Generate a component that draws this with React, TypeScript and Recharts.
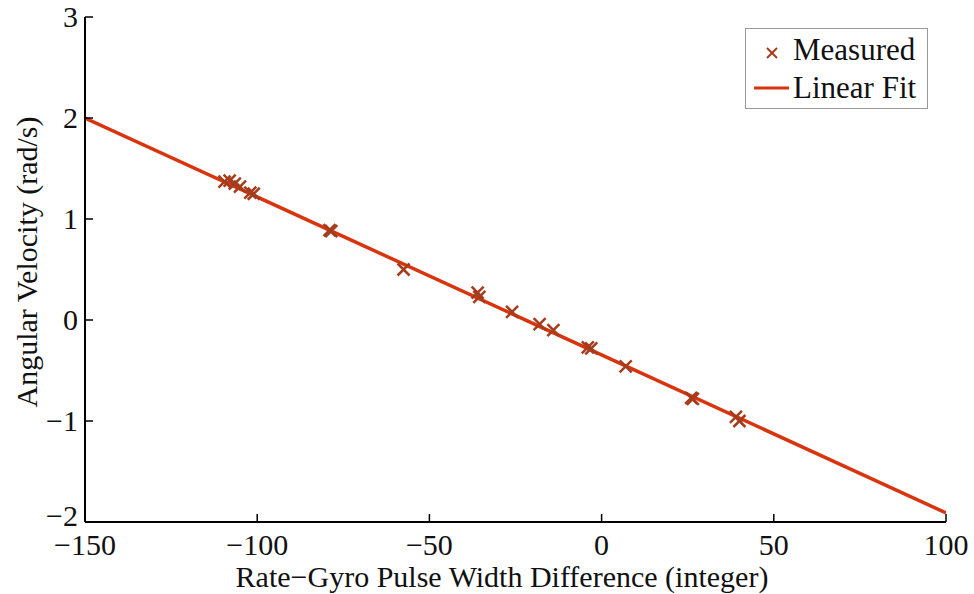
import React from 'react';
import { ComposedChart, XAxis, YAxis, Scatter, Line } from 'recharts';

const MEAS_X = [-109.5, -108, -106.5, -105, -102, -101, -79, -78.5, -57.5, -36, -35.5, -26, -18, -14, -4, -3, 7, 26, 26.5, 39, 40];
const MEAS_Y = [1.37, 1.38, 1.35, 1.32, 1.26, 1.25, 0.89, 0.88, 0.5, 0.27, 0.23, 0.08, -0.04, -0.1, -0.27, -0.28, -0.46, -0.77, -0.78, -0.96, -1.0];
const FIT_X = [-150, 100];
const FIT_Y = [2.0, -1.91];
const X_TICKS = [-150, -100, -50, 0, 50, 100];
const Y_TICKS = [-2, -1, 0, 1, 2, 3];

const measured = MEAS_X.map((x, i) => ({ x, y: MEAS_Y[i] }));
const fit = FIT_X.map((x, i) => ({ x, y: FIT_Y[i] }));

const FONT = "'Liberation Serif', 'Times New Roman', serif";
const MARK = '#a53c1c';
const LINE = '#d8350f';

const fmt = (v: number) => (v < 0 ? '\u2212' + Math.abs(v) : String(v));

const XTick = (props: any) => {
  const { x, y, payload } = props;
  return (
    <g>
      <line x1={x} x2={x} y1={y} y2={y - 8} stroke="#000" strokeWidth={1.5} />
      <text x={x} y={y + 33} textAnchor="middle" fontFamily={FONT} fontSize={30} fill="#111">
        {fmt(payload.value)}
      </text>
    </g>
  );
};

const YTick = (props: any) => {
  const { x, y, payload } = props;
  return (
    <g>
      <line x1={x} x2={x + 8} y1={y} y2={y} stroke="#000" strokeWidth={1.5} />
      <text x={x - 7} y={payload.value === -2 ? y + 4 : y + 10} textAnchor="end" fontFamily={FONT} fontSize={30} fill="#111">
        {fmt(payload.value)}
      </text>
    </g>
  );
};

const Cross = (props: any) => {
  const { cx, cy } = props;
  const r = 6;
  return (
    <g>
      <line x1={cx - r} y1={cy - r} x2={cx + r} y2={cy + r} stroke={MARK} strokeWidth={2.5} />
      <line x1={cx - r} y1={cy + r} x2={cx + r} y2={cy - r} stroke={MARK} strokeWidth={2.5} />
    </g>
  );
};

const LegendBox = () => (
  <div
    style={{
      position: 'absolute',
      left: 745,
      top: 28,
      width: 183,
      height: 81,
      border: '1px solid #999',
      background: '#fff',
      fontFamily: FONT,
      fontSize: 31,
      color: '#111',
      boxSizing: 'border-box',
    }}
  >
    <svg width={50} height={79} style={{ position: 'absolute', left: 0, top: 0 }}>
      <line x1={21} y1={19} x2={31} y2={29} stroke={MARK} strokeWidth={2} />
      <line x1={21} y1={29} x2={31} y2={19} stroke={MARK} strokeWidth={2} />
      <line x1={8} y1={59} x2={43} y2={59} stroke={LINE} strokeWidth={3} />
    </svg>
    <div style={{ position: 'absolute', left: 47, top: 4, lineHeight: '34px', whiteSpace: 'nowrap' }}>Measured</div>
    <div style={{ position: 'absolute', left: 47, top: 42, lineHeight: '34px', whiteSpace: 'nowrap' }}>Linear Fit</div>
  </div>
);

export default function App() {
  return (
    <div style={{ position: 'absolute', left: 0, top: 0, width: 974, height: 594, background: '#fff' }}>
      <ComposedChart width={974} height={594} margin={{ top: 17, right: 28, bottom: 0, left: 0 }}>
        <XAxis
          type="number"
          dataKey="x"
          domain={[-150, 100]}
          ticks={X_TICKS}
          allowDataOverflow
          height={72}
          tickSize={0}
          tickMargin={0}
          tickLine={false}
          tick={<XTick />}
          axisLine={{ stroke: '#000', strokeWidth: 2 }}
        />
        <YAxis
          type="number"
          dataKey="y"
          domain={[-2, 3]}
          ticks={Y_TICKS}
          allowDataOverflow
          width={85}
          tickSize={0}
          tickMargin={0}
          tickLine={false}
          tick={<YTick />}
          axisLine={{ stroke: '#000', strokeWidth: 2 }}
        />
        <Line
          data={fit}
          dataKey="y"
          type="linear"
          stroke={LINE}
          strokeWidth={3.5}
          dot={false}
          activeDot={false}
          isAnimationActive={false}
          legendType="none"
        />
        <Scatter data={measured} dataKey="y" shape={<Cross />} isAnimationActive={false} />
      </ComposedChart>
      <LegendBox />
      <div
        style={{
          position: 'absolute',
          left: 0,
          width: 1004,
          top: 560,
          textAlign: 'center',
          fontFamily: FONT,
          fontSize: 30,
          color: '#111',
          lineHeight: '34px',
          whiteSpace: 'nowrap',
        }}
      >
        Rate{'\u2212'}Gyro Pulse Width Difference (integer)
      </div>
      <div
        style={{
          position: 'absolute',
          left: 27,
          top: 262,
          transform: 'translate(-50%, -50%) rotate(-90deg)',
          fontFamily: FONT,
          fontSize: 30,
          color: '#111',
          lineHeight: '34px',
          whiteSpace: 'nowrap',
        }}
      >
        Angular Velocity (rad/s)
      </div>
    </div>
  );
}
